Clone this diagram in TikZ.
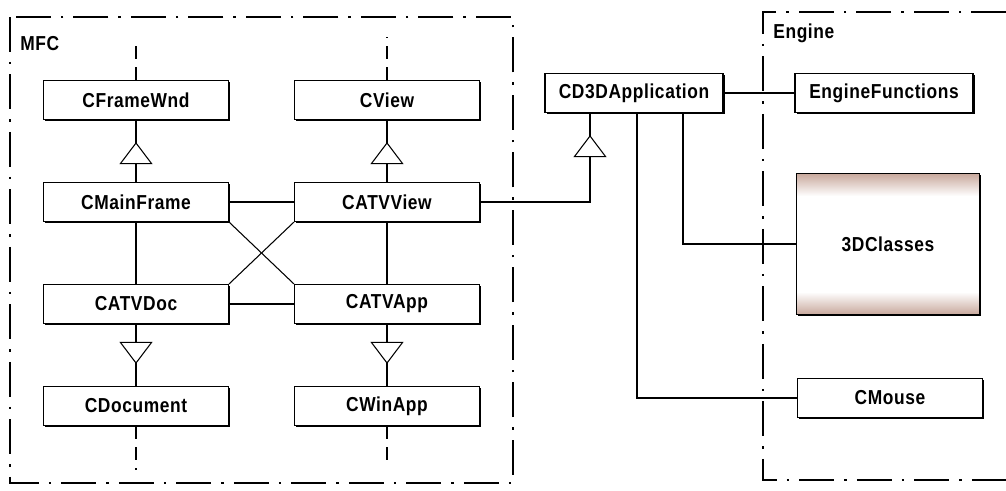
\documentclass[tikz,border=0pt]{standalone}
\usepackage{fontspec}
\setmainfont{Liberation Sans}[FakeStretch=0.86, LetterSpace=3]
\usepackage{tikz}
\usetikzlibrary{
  arrows.meta,
  calc,
  decorations.markings,
  shadows,
}

\definecolor{classtint}{RGB}{200,168,156}
\pgfdeclareverticalshading{classfade}{100bp}{%
  color(0bp)=(classtint); color(25bp)=(classtint); color(33bp)=(white);
  color(67bp)=(white); color(75bp)=(classtint); color(100bp)=(classtint)}

\begin{document}
\begin{tikzpicture}[
  x=0.02cm, y=-0.02cm,
  font=\fontsize{11.5}{13}\selectfont\bfseries,
  cls/.style={draw=black, line width=0.7pt, fill=white, minimum width=3.7cm,
    minimum height=0.78cm, inner sep=0pt,
    drop shadow={shadow xshift=0.9pt, shadow yshift=-0.9pt, fill=black, opacity=1}},
  assoc/.style={line width=0.6pt},
  inherit/.style={line width=0.6pt, postaction={decorate, decoration={markings,
      mark=at position -0.44cm with {\arrow{Triangle[length=0.44cm, width=0.66cm, fill=white]}}}}},
  stub/.style={line width=0.6pt, dash pattern=on 0.26cm off 0.16cm},
  pkg/.style={line width=0.6pt, dash pattern=on 0.7cm off 0.2cm on 0.05cm off 0.2cm},
  tag/.style={anchor=base west, inner sep=0pt},
]

\fill[white] (0,0) rectangle (1006,490);
\useasboundingbox (0,0) rectangle (1006,490);

%% packages
\draw[pkg] (10,17) rectangle (513,483);
\node[tag] (mfclabel) at (20,50) {MFC};
\draw[pkg] (1006,12) -- (763,12) -- (763,480) -- (1006,480);
\node[tag] (enginelabel) at (773,38) {Engine};

%% MFC classes
\node[cls] (cframewnd)  at (136,100) {CFrameWnd};
\node[cls] (cmainframe) at (136,202) {CMainFrame};
\node[cls] (catvdoc)    at (136,304) {CATVDoc};
\node[cls] (cdocument)  at (136,406) {CDocument};
\node[cls] (cview)      at (387,100) {CView};
\node[cls] (catvview)   at (387,202) {CATVView};
\node[cls] (catvapp)    at (387,304) {CATVApp};
\node[cls] (cwinapp)    at (387,406) {CWinApp};

%% engine classes
\node[cls, minimum width=3.56cm] (cd3dapp)  at (634,93) {CD3DApplication};
\node[cls, minimum width=3.56cm] (enginefn) at (884,93) {EngineFunctions};
\node[cls, minimum width=3.66cm, minimum height=2.82cm, line width=1pt,
  shade, shading=classfade] (classes3d) at (888,244) {3DClasses};
\node[cls] (cmouse) at (890,398) {CMouse};

%% open ends of the MFC hierarchy
\coordinate (frametop)  at (136,40);
\coordinate (viewtop)   at (387,37);
\coordinate (docbottom) at (136,470);
\coordinate (appbottom) at (387,466);
\draw[stub] (cframewnd.north) -- (frametop);
\draw[stub] (cview.north)     -- (viewtop);
\draw[stub] (cdocument.south) -- (docbottom);
\draw[stub] (cwinapp.south)   -- (appbottom);

%% inheritance
\draw[inherit] (cmainframe.north) -- (cframewnd.south);
\draw[inherit] (catvview.north)   -- (cview.south);
\draw[inherit] (catvdoc.south)    -- (cdocument.north);
\draw[inherit] (catvapp.south)    -- (cwinapp.north);
\draw[inherit] (catvview.east) -| ([xshift=-0.88cm]cd3dapp.south);

%% associations
\draw[assoc] (cmainframe) -- (catvview);
\draw[assoc] (catvdoc) -- (catvapp);
\draw[assoc] (cmainframe) -- (catvdoc);
\draw[assoc] (catvview) -- (catvapp);
\draw[assoc] (cmainframe.south east) -- (catvapp.north west);
\draw[assoc] (catvview.south west) -- (catvdoc.north east);
\draw[assoc] (cd3dapp) -- (enginefn);
\draw[assoc] ([xshift=0.06cm]cd3dapp.south) |- (cmouse.west);
\draw[assoc] ([xshift=0.98cm]cd3dapp.south) |- (classes3d.west);

\end{tikzpicture}
\end{document}
